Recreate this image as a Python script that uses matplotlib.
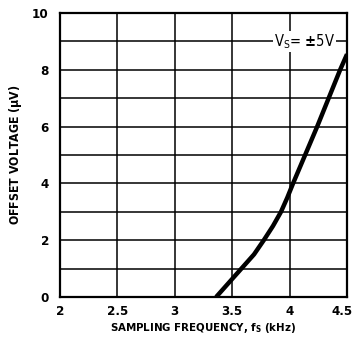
import numpy as np
import matplotlib
matplotlib.use("Agg")
import matplotlib.pyplot as plt
from matplotlib.transforms import ScaledTranslation

plt.rcParams["font.family"] = ["DejaVu Sans"]
plt.rcParams["font.stretch"] = "condensed"
plt.rcParams["font.weight"] = "bold"
plt.rcParams["axes.labelweight"] = "bold"
plt.rcParams["mathtext.fontset"] = "custom"
plt.rcParams["mathtext.rm"] = "DejaVu Sans:bold"

# curve
freq_khz = [3.36, 3.47, 3.58, 3.69, 3.775, 3.855, 3.925, 3.98, 4.03, 4.135, 4.24, 4.34, 4.44, 4.5]
offset_uv = [0, 0.5, 1, 1.5, 2, 2.5, 3, 3.5, 4, 5, 6, 7, 8, 8.55]

x_ticks = [2, 2.5, 3, 3.5, 4, 4.5]
x_tick_labels = ["2", "2.5", "3", "3.5", "4", "4.5"]
y_ticks = [0, 2, 4, 6, 8, 10]

fig = plt.figure(figsize=(3.55, 3.43), dpi=100)
ax = fig.add_axes([0.1690, 0.1341, 0.8085, 0.8279])

ax.set_xlim(2, 4.5)
ax.set_ylim(0, 10)

# grid every 0.5 kHz and every 1 uV
for gx in np.arange(2.5, 4.5, 0.5):
    ax.axvline(gx, color="black", lw=1.1, zorder=1)
for gy in range(1, 10):
    ax.axhline(gy, color="black", lw=1.1, zorder=1)

ax.plot(freq_khz, offset_uv, color="black", lw=3.2, solid_capstyle="butt",
        solid_joinstyle="round", zorder=3)

ax.text(4.13, 9, r"V$_\mathregular{S}$= $\pm$5V", ha="center", va="center",
        fontsize=10.5, fontweight="normal", zorder=4,
        bbox=dict(facecolor="white", edgecolor="none", pad=1.0))

for s in ax.spines.values():
    s.set_linewidth(1.6)

ax.set_xticks(x_ticks)
ax.set_xticklabels(x_tick_labels)
ax.set_yticks(y_ticks)
ax.tick_params(length=0, labelsize=9.5)
ax.tick_params(axis="x", pad=6)
ax.tick_params(axis="y", pad=8)

# last x label sits a bit inside the frame
last = ax.get_xticklabels()[-1]
last.set_transform(last.get_transform() + ScaledTranslation(-5 / 100, 0, fig.dpi_scale_trans))

ax.set_xlabel(r"SAMPLING FREQUENCY, f$_\mathregular{S}$ (kHz)", fontsize=8.2, labelpad=2)
ax.set_ylabel(r"OFFSET VOLTAGE ($\mathregular{\mu}$V)", fontsize=8.8, labelpad=6)

fig.savefig("out.png", dpi=100, facecolor="white")
